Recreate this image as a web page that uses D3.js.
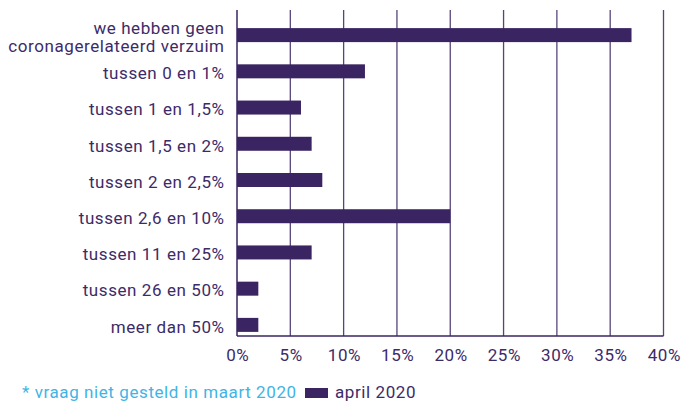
<!DOCTYPE html>
<html><head><meta charset="utf-8">
<script src="https://cdn.jsdelivr.net/npm/d3@7"></script>
<style>body{margin:0;background:#fff}svg{display:block}text{font-family:Roboto, "Noto Sans", sans-serif;letter-spacing:0.58px}</style>
</head><body><svg id="c" width="696" height="403"></svg>
<script>
const categories = [
  ["we hebben geen", "coronagerelateerd verzuim"],
  ["tussen 0 en 1%"],
  ["tussen 1 en 1,5%"],
  ["tussen 1,5 en 2%"],
  ["tussen 2 en 2,5%"],
  ["tussen 2,6 en 10%"],
  ["tussen 11 en 25%"],
  ["tussen 26 en 50%"],
  ["meer dan 50%"]
];
const april2020 = [37, 12, 6, 7, 8, 20, 7, 2, 2];
const xTicks = [0, 5, 10, 15, 20, 25, 30, 35, 40];
const legendNote = "* vraag niet gesteld in maart 2020";
const seriesName = "april 2020";

(function(){
const purple = "#3a2462", textCol = "#3d2b68", cyan = "#41b4e5";
const fs = "17px";
const svg = d3.select("#c");
const pl = 237, pr = 663.5, pt = 10, pb = 336;
const x = d3.scaleLinear().domain([0, 40]).range([pl, pr]);
const y = d3.scaleBand().domain(d3.range(categories.length)).range([17, 343]);

svg.append("g").selectAll("line").data(xTicks.slice(1)).join("line")
  .attr("x1", d => x(d)).attr("x2", d => x(d)).attr("y1", pt).attr("y2", pb)
  .attr("stroke", purple).attr("stroke-width", 1.3).attr("stroke-opacity", 0.85);

svg.append("g").selectAll("rect").data(april2020).join("rect")
  .attr("x", x(0)).attr("y", (d, i) => y(i) + y.bandwidth()/2 - 7)
  .attr("width", d => x(d) - x(0)).attr("height", 14).attr("fill", purple);

svg.append("line").attr("x1", pl).attr("x2", pl).attr("y1", pt).attr("y2", pb)
  .attr("stroke", purple).attr("stroke-width", 1.5);
svg.append("line").attr("x1", pl).attr("x2", pr).attr("y1", pb).attr("y2", pb)
  .attr("stroke", purple).attr("stroke-width", 1.5);

const xAxis = d3.axisBottom(x).tickValues(xTicks).tickFormat(d => d + "%").tickSize(0).tickPadding(0);
const gx = svg.append("g").attr("transform", `translate(0.3,${pb})`).call(xAxis);
gx.select(".domain").remove();
gx.selectAll("text").attr("y", 19).attr("dy", "0.35em").attr("fill", textCol)
  .style("font-size", fs).style("font-family", "Roboto, sans-serif");

const gy = svg.append("g");
categories.forEach((lines, i) => {
  const cy = y(i) + y.bandwidth()/2;
  const lh = 18;
  lines.forEach((l, j) => {
    gy.append("text").attr("x", 224.6).attr("text-anchor", "end")
      .attr("fill", textCol).style("font-size", fs)
      .attr("y", cy + (j - (lines.length - 1)/2) * lh + 1.8).attr("dy", "0.35em").text(l);
  });
});

svg.append("text").attr("x", 22).attr("y", 392).attr("dy", "0.35em").attr("fill", cyan)
  .style("font-size", fs).text(legendNote);
svg.append("rect").attr("x", 305).attr("y", 388).attr("width", 23).attr("height", 10).attr("fill", purple);
svg.append("text").attr("x", 335).attr("y", 392).attr("dy", "0.35em").attr("fill", textCol)
  .style("font-size", fs).text(seriesName);
})();
</script></body></html>
